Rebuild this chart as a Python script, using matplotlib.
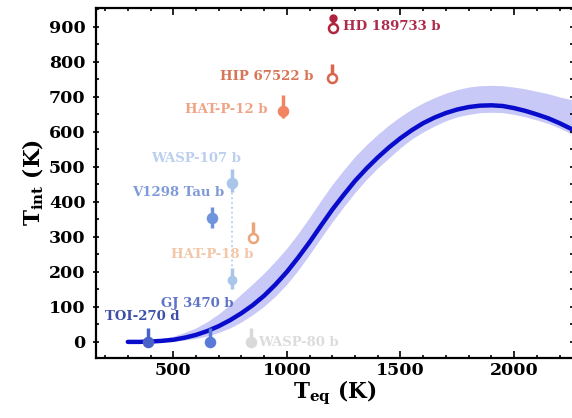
import matplotlib
matplotlib.use("Agg")
import matplotlib.pyplot as plt
from matplotlib.ticker import MultipleLocator

# ---- model curve ----
model_teq = [300, 350, 400, 450, 500, 550, 600, 650, 700, 750, 800, 850, 900, 950,
             1000, 1050, 1100, 1150, 1200, 1250, 1300, 1350, 1400, 1450, 1500,
             1550, 1600, 1650, 1700, 1750, 1800, 1850, 1900, 1950, 2000, 2050,
             2100, 2150, 2200, 2260]
model_tint = [0, 0, 1, 3, 6, 12, 20, 31, 45, 62, 82, 105, 132, 164,
              200, 241, 285, 332, 378, 420, 460, 495, 527, 556, 582,
              605, 625, 641, 654, 664, 671, 675, 676, 674, 668, 660,
              650, 639, 625, 606]
model_upper = [2, 3, 6, 10, 16, 27, 40, 58, 80, 107, 137, 166, 197, 231,
               268, 310, 356, 404, 450, 491, 530, 563, 593, 620, 644,
               665, 683, 698, 711, 721, 728, 732, 733, 732, 728, 723,
               716, 709, 700, 691]
model_lower = [0, 0, 0, 1, 2, 5, 10, 17, 27, 40, 57, 78, 102, 131,
               165, 205, 250, 297, 343, 386, 427, 464, 497, 526, 555,
               580, 600, 617, 632, 643, 650, 655, 656, 655, 650, 643,
               634, 624, 611, 592]

# ---- planets ----
names = ["TOI-270 d", "GJ 3470 b", "V1298 Tau b", "WASP-107 b", "HAT-P-18 b",
         "WASP-80 b", "HAT-P-12 b", "HIP 67522 b", "HD 189733 b"]
teq = [387, 660, 672, 760, 849, 840, 983, 1200, 1205]
tint = [0, 0, 354, 454, 297, 0, 660, 754, 897]
err_lo = [0, 0, 30, 25, 15, 0, 20, 15, 10]
err_hi = [40, 40, 30, 40, 45, 40, 45, 40, 35]
filled = [True, True, True, True, False, True, True, False, False]
colors = ["#4a62c8", "#5a7ad8", "#6f94dc", "#a9c6ea", "#eba57a",
          "#d9d9d9", "#f28462", "#d9654a", "#b0243f"]
label_colors = ["#3d4fa6", "#5f74c8", "#7f9ad9", "#bccfee", "#f3c6a8",
                "#dcdcdc", "#f1a386", "#d77556", "#ad2c4c"]
label_xy = [(142, 316), (197, 303), (178, 193), (196, 158), (212, 254),
            (298, 343), (226, 110), (267, 77), (392, 27)]

# secondary estimates
wasp107_alt_teq = [760]
wasp107_alt_tint = [177]
hd189_alt_teq = [1205]
hd189_alt_tint = [925]

W, H = 572, 418
fig = plt.figure(figsize=(W / 100, H / 100), dpi=100)
plt.rcParams['mathtext.fontset'] = 'custom'
plt.rcParams['mathtext.rm'] = 'DejaVu Serif:bold'
plt.rcParams['mathtext.it'] = 'DejaVu Serif:bold'
plt.rcParams['mathtext.bf'] = 'DejaVu Serif:bold'

ax = fig.add_axes([96 / W, 1 - 358 / H, 1 - 96 / W + 0.002, (358 - 8) / H])
ax.set_xlim(160, 2260)
ax.set_ylim(-46, 954)

ax.fill_between(model_teq, model_lower, model_upper, color="#c8c9f7", lw=0, zorder=1)
ax.plot(model_teq, model_tint, color="#0a0ccc", lw=3.2, zorder=2,
        solid_capstyle="round", solid_joinstyle="round")

# dotted connector for WASP-107 b
ax.plot([teq[3], wasp107_alt_teq[0]], [tint[3], wasp107_alt_tint[0]],
        ls=":", color="#b8cdea", lw=1.3, zorder=2)
ax.errorbar(wasp107_alt_teq, wasp107_alt_tint, yerr=[[25], [35]], fmt="o",
            color=colors[3], ms=6, elinewidth=2.5, capsize=0, zorder=3)
ax.errorbar(hd189_alt_teq, hd189_alt_tint, yerr=[[10], [10]], fmt="o",
            color=colors[8], ms=5, elinewidth=2.5, capsize=0, zorder=3)

for i in range(len(names)):
    mfc = colors[i] if filled[i] else "white"
    ax.errorbar([teq[i]], [tint[i]], yerr=[[err_lo[i]], [err_hi[i]]], fmt="o",
                color=colors[i], mfc=mfc, mec=colors[i], mew=1.8, ms=6.5,
                elinewidth=2.5, capsize=0, zorder=4)
    x_px, y_px = label_xy[i]
    fig.text(x_px / W, 1 - y_px / H, names[i], color=label_colors[i], fontsize=9.5,
             fontweight="bold", family="DejaVu Serif", ha="center", va="center",
             zorder=5)

ax.xaxis.set_major_locator(MultipleLocator(500))
ax.xaxis.set_minor_locator(MultipleLocator(100))
ax.yaxis.set_major_locator(MultipleLocator(100))
ax.yaxis.set_minor_locator(MultipleLocator(50))
ax.tick_params(which="both", direction="in", top=True, right=True, width=1.2)
ax.tick_params(axis="y", which="major", direction="inout")
ax.tick_params(which="major", length=5)
ax.tick_params(which="minor", length=2.5)
for lab in ax.get_xticklabels() + ax.get_yticklabels():
    lab.set_fontfamily("DejaVu Serif")
    lab.set_fontweight("bold")
    lab.set_fontsize(12.5)
ax.tick_params(axis="x", pad=3)
ax.tick_params(axis="y", pad=5)
for s in ax.spines.values():
    s.set_linewidth(1.6)

ax.set_xlabel(r"T$_{\rm eq}$ (K)", fontsize=15.5, fontweight="bold", family="DejaVu Serif", labelpad=0)
ax.set_ylabel(r"T$_{\rm int}$ (K)", fontsize=15.5, fontweight="bold", family="DejaVu Serif", labelpad=2)

fig.savefig("out.png", dpi=100)
